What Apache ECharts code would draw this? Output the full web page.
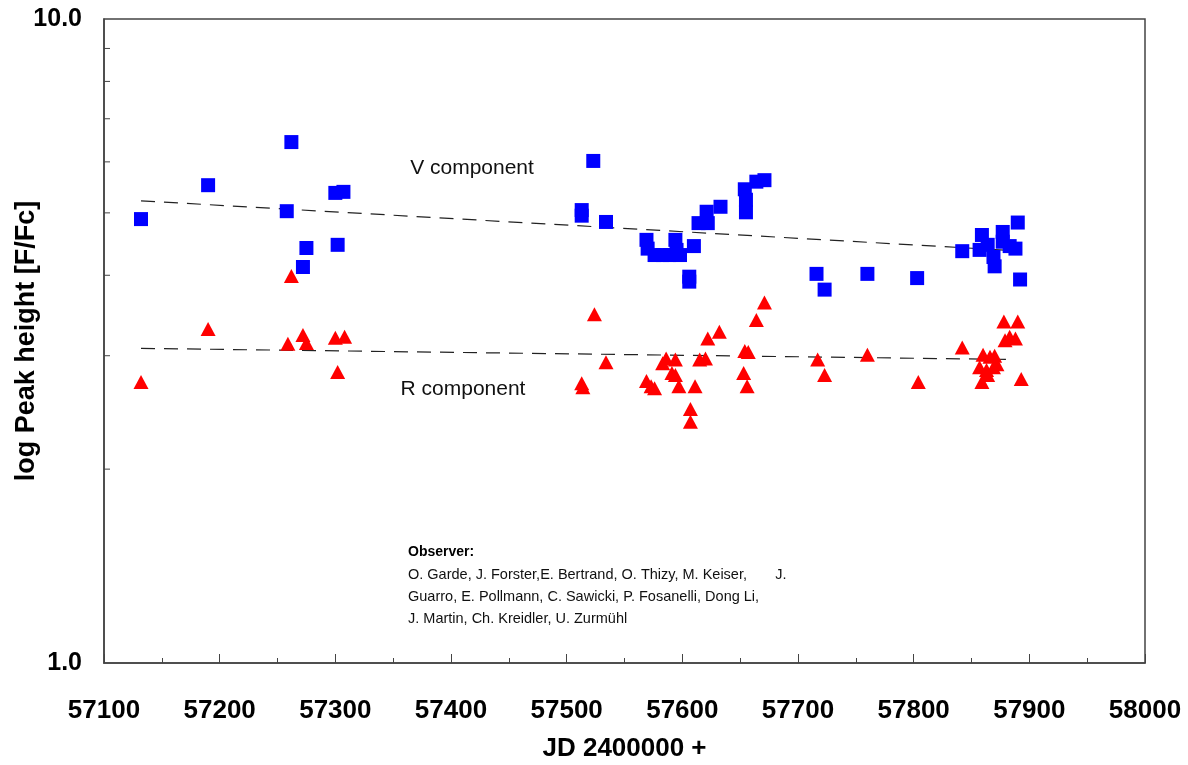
<!DOCTYPE html>
<html>
<head>
<meta charset="utf-8">
<script src="https://cdn.jsdelivr.net/npm/echarts@6/dist/echarts.min.js"></script>
<style>html,body{margin:0;padding:0;background:#fff}#c{width:1188px;height:765px}</style>
</head>
<body>
<div id="c"></div>
<script>
// V component (blue squares)
var vJD  = [57132,57190,57262,57258,57272,57275,57300,57307,57302,57513,57513,57523,57534,57569,57570,57576,57583,57589,57594,57595,57598,57606,57606,57610,57614,57621,57622,57633,57654,57655,57655,57664,57671,57716,57723,57760,57803,57842,57859,57857,57864,57869,57870,57877,57877,57883,57888,57890,57892];
var vVal = [4.89,5.52,6.44,5.03,4.12,4.41,5.37,5.39,4.46,5.05,4.95,6.02,4.84,4.54,4.40,4.30,4.30,4.30,4.54,4.38,4.30,3.98,3.91,4.44,4.82,5.02,4.82,5.11,5.44,5.24,5.01,5.59,5.62,4.02,3.80,4.02,3.96,4.36,4.62,4.38,4.46,4.27,4.13,4.67,4.51,4.44,4.40,4.83,3.94];
// R component (red triangles)
var rJD  = [57132,57190,57262,57259,57272,57275,57300,57308,57302,57513,57514,57524,57534,57569,57573,57576,57583,57586,57594,57591,57594,57597,57607,57607,57611,57615,57620,57622,57632,57654,57657,57653,57656,57664,57671,57717,57723,57760,57804,57842,57859,57860,57866,57870,57857,57863,57869,57864,57872,57878,57890,57879,57883,57888,57893];
var rVal = [2.73,3.30,3.99,3.13,3.23,3.14,3.20,3.21,2.83,2.72,2.68,3.48,2.93,2.74,2.69,2.67,2.92,2.97,2.96,2.82,2.80,2.69,2.48,2.37,2.69,2.96,2.97,3.19,3.27,3.05,3.04,2.82,2.69,3.41,3.63,2.96,2.80,3.01,2.73,3.09,2.73,3.01,2.99,3.00,2.88,2.85,2.88,2.80,2.91,3.39,3.39,3.17,3.21,3.19,2.76];
// trend lines
var vTrendJD = [57132, 57885];
var vTrendVal = [5.22, 4.37];
var rTrendJD = [57132, 57885];
var rTrendVal = [3.08, 2.96];
// y-axis minor tick values (log axis)
var yMinorTicks = [2,3,4,5,6,7,8,9];
var observerLines = [
  "O. Garde, J. Forster,E. Bertrand, O. Thizy, M. Keiser,       J.",
  "Guarro, E. Pollmann, C. Sawicki, P. Fosanelli, Dong Li,",
  "J. Martin, Ch. Kreidler, U. Zurmühl"
];

function pairs(a, b){ return a.map(function(x,i){ return [x, b[i]]; }); }

var FONT = '"Liberation Sans", Arial, sans-serif';
var chart = echarts.init(document.getElementById('c'), null, {renderer:'canvas'});

var graphics = [
  {type:'text', x:472, y:168, style:{text:'V component', font:'21px ' + FONT, fill:'#111', textAlign:'center', textVerticalAlign:'middle'}},
  {type:'text', x:463, y:389, style:{text:'R component', font:'21px ' + FONT, fill:'#111', textAlign:'center', textVerticalAlign:'middle'}},
  {type:'text', x:408, y:552, style:{text:'Observer:', font:'bold 14px ' + FONT, fill:'#000', textAlign:'left', textVerticalAlign:'middle'}}
];
observerLines.forEach(function(t, i){
  graphics.push({type:'text', x:408, y:575 + i*22, style:{text:t, font:'14.5px ' + FONT, fill:'#111', textAlign:'left', textVerticalAlign:'middle'}});
});

chart.setOption({
  backgroundColor:'#fff',
  animation:false,
  grid:{left:104, right:43, top:19, bottom:102, show:true, borderColor:'#444', borderWidth:1.5,
        backgroundColor:'transparent', containLabel:false, outerBoundsMode:'none'},
  xAxis:{
    type:'value', min:57100, max:58000, interval:100,
    name:'JD 2400000 +', nameLocation:'middle', nameGap:73, nameMoveOverlap:false,
    nameTextStyle:{fontFamily:FONT, fontWeight:'bold', fontSize:26, color:'#000'},
    axisLine:{show:true, onZero:false, lineStyle:{color:'#444', width:1.5}},
    axisTick:{show:true, inside:true, length:9, lineStyle:{color:'#444', width:1}},
    minorTick:{show:true, splitNumber:2, length:5, lineStyle:{color:'#444', width:1}},
    splitLine:{show:false},
    axisLabel:{margin:35, fontFamily:FONT, fontWeight:'bold', fontSize:26, color:'#000',
      formatter:function(v){ return String(v); }}
  },
  yAxis:{
    type:'log', logBase:10, min:1, max:10,
    name:'log Peak height [F/Fc]', nameLocation:'middle', nameGap:64, nameRotate:90, nameMoveOverlap:false,
    nameTextStyle:{fontFamily:FONT, fontWeight:'bold', fontSize:27, color:'#000'},
    axisLine:{show:true, lineStyle:{color:'#444', width:1.5}},
    axisTick:{show:false},
    splitLine:{show:false},
    axisLabel:{margin:22, fontFamily:FONT, fontWeight:'bold', fontSize:25, color:'#000',
      formatter:function(v){ return Number(v).toFixed(1); }}
  },
  graphic:graphics,
  series:[
    {type:'custom', silent:true, clip:false, z:1,
     data:yMinorTicks.map(function(v){ return [57100, v]; }),
     renderItem:function(params, api){
       var p = api.coord([api.value(0), api.value(1)]);
       return {type:'line', shape:{x1:p[0], y1:p[1], x2:p[0]+6, y2:p[1]}, style:{stroke:'#444', lineWidth:1}};
     }},
    {type:'line', data:pairs(vTrendJD, vTrendVal), symbol:'none', silent:true, z:2,
     lineStyle:{color:'#222', width:1.2, type:[14,9]}},
    {type:'line', data:pairs(rTrendJD, rTrendVal), symbol:'none', silent:true, z:2,
     lineStyle:{color:'#222', width:1.2, type:[14,9]}},
    {type:'scatter', name:'V component', data:pairs(vJD, vVal), symbol:'rect', symbolSize:14,
     itemStyle:{color:'#0000ff', opacity:1}, z:3},
    {type:'scatter', name:'R component', data:pairs(rJD, rVal), symbol:'triangle', symbolSize:[15,14],
     itemStyle:{color:'#ff0000', opacity:1}, z:3}
  ]
});
</script>
</body>
</html>
